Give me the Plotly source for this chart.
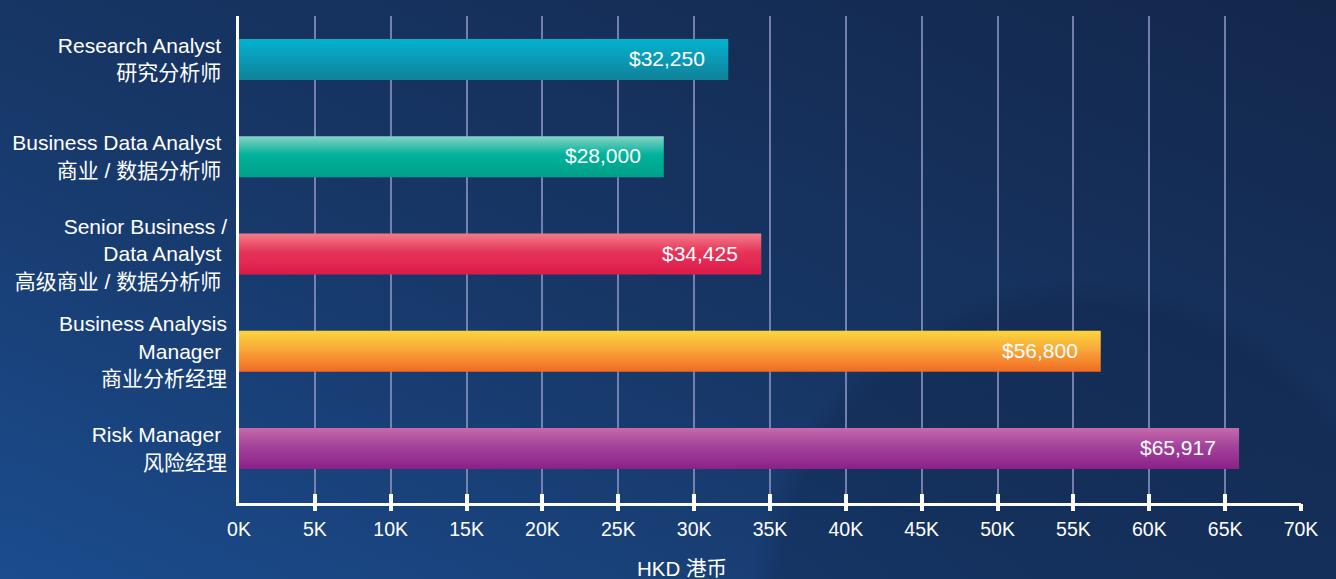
import base64
import plotly.graph_objects as go

# ---------------- data ----------------
en_labels = ["Research Analyst\u00a0", "Business Data Analyst\u00a0", "Senior Business /<br>Data Analyst\u00a0",
             "Business Analysis<br>Manager\u00a0", "Risk Manager\u00a0"]
zh_labels = ["研究分析师\u00a0", "商业 / 数据分析师\u00a0", "高级商业 / 数据分析师\u00a0", "商业分析经理", "风险经理"]
values = [32250, 28000, 34425, 56800, 65917]
value_labels = ["$32,250", "$28,000", "$34,425", "$56,800", "$65,917"]
tick_vals = [0, 5000, 10000, 15000, 20000, 25000, 30000, 35000, 40000, 45000, 50000, 55000, 60000, 65000, 70000]
tick_text = ["0K", "5K", "10K", "15K", "20K", "25K", "30K", "35K", "40K", "45K", "50K", "55K", "60K", "65K", "70K"]
axis_title = "HKD 港币"

# bar colour gradients: [bottom, middle, top]
bar_colors = [
    ["#0f8299", "#0a9cb8", "#02b3d0"],
    ["#00a089", "#00b29a", "#86d2c6"],
    ["#dd1a4b", "#e6345a", "#f27d88"],
    ["#f16a22", "#f9a93b", "#fcd43a"],
    ["#8b2088", "#a2439b", "#c769aa"],
]

positions = [4, 3, 2, 1, 0]
half_h = 0.21
FONT = "Liberation Sans, Arial, Noto Sans CJK SC, sans-serif"

L, R, T, B = 239, 35, 16, 76
W, H = 1336, 579
PW, PH = W - L - R, H - T - B

fig = go.Figure()

for i, (v, p) in enumerate(zip(values, positions)):
    b, m, t = bar_colors[i]
    fig.add_trace(go.Scatter(
        x=[0, v, v, 0, 0],
        y=[p - half_h, p - half_h, p + half_h, p + half_h, p - half_h],
        mode="lines", fill="toself", line=dict(width=0, color=m),
        fillcolor=m,
        fillgradient=dict(type="vertical", colorscale=[[0, b], [0.55, m], [1, t]]),
        hoverinfo="skip", showlegend=False, xaxis="x", yaxis="y",
    ))
    fig.add_annotation(x=v, y=p, xref="x", yref="y", text=value_labels[i], showarrow=False,
                       xanchor="right", yanchor="middle", xshift=-21, yshift=1,
                       font=dict(family=FONT, size=21, color="white"))

# background
svg = '''<svg xmlns="http://www.w3.org/2000/svg" width="1336" height="579" viewBox="0 0 1336 579" preserveAspectRatio="none">
<defs>
<linearGradient id="g" x1="0" y1="1" x2="1" y2="0">
<stop offset="0" stop-color="#1b4c8e"/>
<stop offset="0.45" stop-color="#173767"/>
<stop offset="1" stop-color="#13274b"/>
</linearGradient>
<radialGradient id="r" cx="1080" cy="610" r="330" gradientUnits="userSpaceOnUse">
<stop offset="0" stop-color="#0e2142" stop-opacity="0.35"/>
<stop offset="0.92" stop-color="#0e2142" stop-opacity="0.3"/>
<stop offset="1" stop-color="#0e2142" stop-opacity="0"/>
</radialGradient>
</defs>
<rect width="1336" height="579" fill="url(#g)"/>
<rect width="1336" height="579" fill="url(#r)"/>
</svg>'''
src = "data:image/svg+xml;base64," + base64.b64encode(svg.encode()).decode()

ylabels = [f"{e}<br>{z}" for e, z in zip(en_labels, zh_labels)]

fig.update_layout(
    width=W, height=H,
    margin=dict(l=L, r=R, t=T, b=B, autoexpand=False),
    paper_bgcolor="#173666", plot_bgcolor="rgba(0,0,0,0)",
    images=[dict(source=src, xref="paper", yref="paper", x=-L / PW, y=1 + T / PH,
                 sizex=W / PW, sizey=H / PH, sizing="stretch", xanchor="left", yanchor="top",
                 layer="below")],
    font=dict(family=FONT, color="white"),
    xaxis=dict(range=[0, 70000], tickvals=tick_vals, ticktext=tick_text, showgrid=True, automargin=False,
               gridcolor="rgba(140,148,192,0.8)", gridwidth=1.6, zeroline=False,
               showline=True, linecolor="white", linewidth=2.5, ticks="",
               tickfont=dict(family=FONT, size=19.5, color="white"), ticklabelstandoff=7),
    xaxis2=dict(overlaying="x", anchor="y", range=[0, 70000], tickvals=tick_vals[1:], showticklabels=False,
                showgrid=False, zeroline=False, ticks="outside", ticklen=7, tickwidth=4, tickcolor="white",
                automargin=False),
    xaxis3=dict(overlaying="x", anchor="y", range=[0, 70000], tickvals=tick_vals[1:], showticklabels=False,
                showgrid=False, zeroline=False, ticks="inside", ticklen=9, tickwidth=4, tickcolor="white",
                automargin=False),
    yaxis=dict(range=[-0.56, 4.447], tickvals=positions, ticktext=ylabels, showgrid=False, zeroline=False,
               showline=True, linecolor="white", linewidth=2.5, ticks="", automargin=False,
               tickfont=dict(family=FONT, size=21, color="white"), ticklabelstandoff=5),
)

# dummy traces so overlay axes render
fig.add_trace(go.Scatter(x=[None], y=[None], xaxis="x2", yaxis="y", showlegend=False, hoverinfo="skip"))
fig.add_trace(go.Scatter(x=[None], y=[None], xaxis="x3", yaxis="y", showlegend=False, hoverinfo="skip"))

fig.add_annotation(x=(682 - L) / PW, y=(H - B - 568) / PH, xref="paper", yref="paper", text=axis_title,
                   showarrow=False, xanchor="center", yanchor="middle",
                   font=dict(family=FONT, size=20.5, color="white"))

fig.write_html("out.html", config={"displayModeBar": False},
               post_script="document.body.style.margin='0';document.body.style.overflow='hidden';")
